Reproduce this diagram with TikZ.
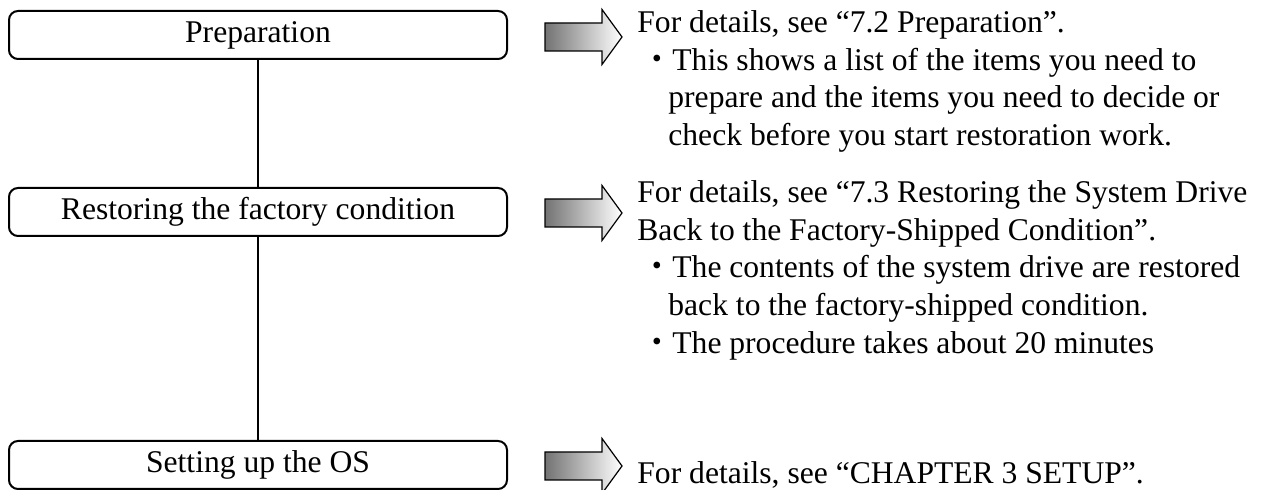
\documentclass[tikz,border=0pt]{standalone}
\usepackage{fontspec}
\setmainfont{Liberation Serif}
\newfontfamily\cjk{Noto Sans CJK JP}
\usetikzlibrary{positioning}

\newcommand\bitem{\hspace*{5pt}\makebox[10pt]{\cjk ・}\hspace*{2.5pt}}
\newcommand\bcont{\hspace*{15.5pt}}
\newcommand\topline{\rule{0pt}{12pt}}

\begin{document}
\begin{tikzpicture}[x=0.5pt,y=-0.5pt,
  stage/.style={draw,line width=1pt,rounded corners=4.5pt,minimum width=249pt,
    minimum height=24pt,inner sep=0pt,font=\fontsize{15.8}{18.85}\selectfont},
  goarrow/.style={draw,line width=0.6pt,left color=black!55,right color=white},
  note/.style={anchor=north west,align=left,inner sep=0pt,
    font=\fontsize{15.8}{18.85}\selectfont}]
\useasboundingbox (0,0) rectangle (1267,490);
% ---- the three stages ----
\node[stage] (prep) at (258,35) {Preparation};
\node[stage] (restore) at (258,212) {Restoring the factory condition};
\node[stage] (setup) at (258,465) {Setting up the OS};
\draw[line width=0.8pt] (prep) -- (restore);
\draw[line width=0.8pt] (restore) -- (setup);
% ---- block arrows ----
\foreach \y in {37,213,466}{
  \shadedraw[goarrow] (545,\y-14) -- (602,\y-14) -- (602,\y-27.5) -- (622,\y)
    -- (602,\y+27.5) -- (602,\y+14) -- (545,\y+14) -- cycle;}
% ---- notes (first baseline = y + 24) ----
\node[note] (prepnote) at (637,8) {\topline For details, see “7.2 Preparation”.\\
  \bitem This shows a list of the items you need to\\
  \bcont prepare and the items you need to decide or\\
  \bcont check before you start restoration work.};
\node[note] (restorenote) at (637,178) {\topline For details, see “7.3 Restoring the System Drive\\
  Back to the Factory-Shipped Condition”.\\
  \bitem The contents of the system drive are restored\\
  \bcont back to the factory-shipped condition.\\
  \bitem The procedure takes about 20 minutes};
\node[note] (setupnote) at (637,459) {\topline For details, see “CHAPTER 3 SETUP”.};
\end{tikzpicture}
\end{document}
